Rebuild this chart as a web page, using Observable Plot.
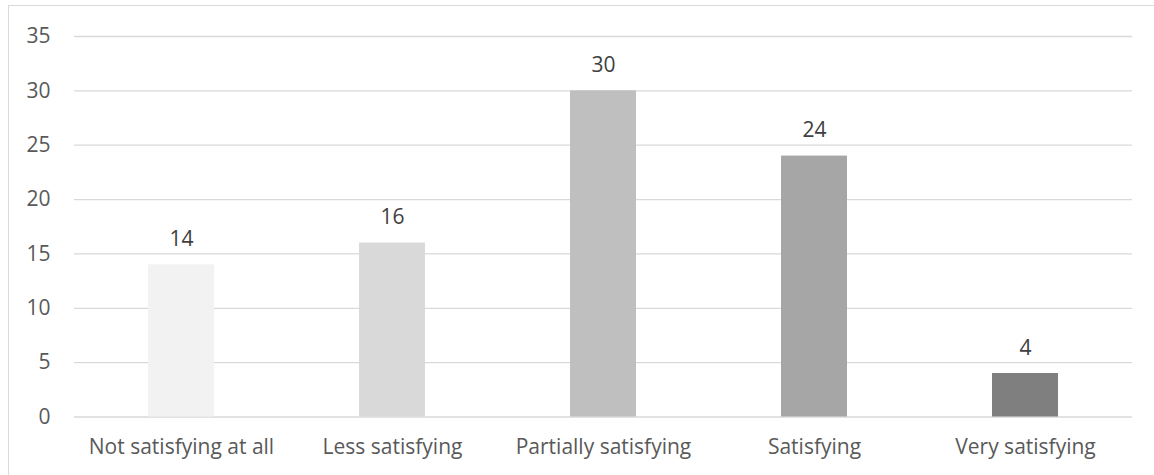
<!DOCTYPE html>
<html>
<head>
<meta charset="utf-8">
<script src="https://cdn.jsdelivr.net/npm/d3@7"></script>
<script src="https://cdn.jsdelivr.net/npm/@observablehq/plot@0.6"></script>
<style>
  html, body { margin: 0; padding: 0; background: #fff; }
  #wrap { position: relative; width: 1154px; height: 475px; overflow: hidden; }
  #frame { position: absolute; left: 8px; top: 5px; width: 1200px; height: 520px; border: 1px solid #d9d9d9; box-sizing: border-box; }
  #chart { position: absolute; left: 0; top: 0; }
</style>
</head>
<body>
<div id="wrap"><div id="frame"></div><div id="chart"></div></div>
<script>
const categories = ["Not satisfying at all", "Less satisfying", "Partially satisfying", "Satisfying", "Very satisfying"];
const values = [14, 16, 30, 24, 4];
const colors = ["#f2f2f2", "#d9d9d9", "#bfbfbf", "#a6a6a6", "#7f7f7f"];
const yTicks = [0, 5, 10, 15, 20, 25, 30, 35];

const data = categories.map((c, i) => ({category: c, value: values[i], color: colors[i]}));

const chart = Plot.plot({
  width: 1154,
  height: 475,
  marginLeft: 74,
  marginRight: 22,
  marginTop: 36,
  marginBottom: 58.5,
  style: {fontFamily: "'Open Sans', sans-serif", fontSize: "21px", color: "#595959", background: "transparent"},
  x: {domain: categories, paddingInner: 0.685, paddingOuter: 0.3425, label: null},
  y: {domain: [0, 35], ticks: yTicks, label: null},
  marks: [
    Plot.gridY(yTicks, {stroke: "#d9d9d9", strokeOpacity: 1, strokeWidth: 1.3}),
    Plot.barY(data, {x: "category", y: "value", fill: "color"}),
    Plot.axisY(yTicks, {tickSize: 0, tickPadding: 24, fontSize: 21, fill: "#595959", label: null}),
    Plot.axisX({tickSize: 0, tickPadding: 22.5, fontSize: 21, fill: "#595959", label: null}),
    Plot.text(data, {x: "category", y: "value", text: d => String(d.value), dy: -25.5, fontSize: 21, fill: "#404040"})
  ]
});
document.getElementById("chart").appendChild(chart);
</script>
</body>
</html>
